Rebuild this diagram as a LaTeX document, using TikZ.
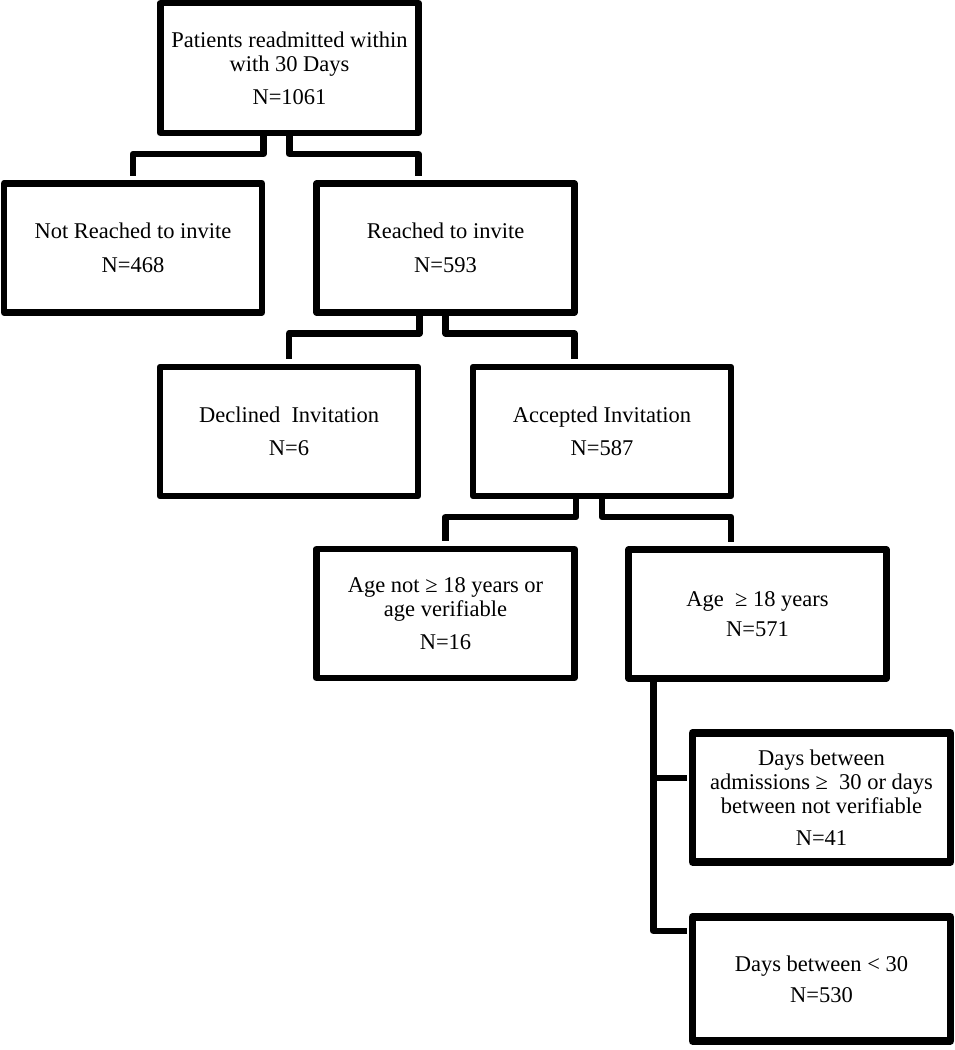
\documentclass[tikz,border=0pt]{standalone}
\usepackage{fontspec}
\setmainfont{Liberation Serif}
\usepackage{tikz}

\begin{document}
\begin{tikzpicture}[x=1pt,y=-1pt,
every node/.style={font=\fontsize{22.5}{24}\selectfont, align=center},
box/.style={draw, line width=6.5pt, line join=round, outer sep=0pt, inner sep=0pt,
	minimum width=258pt, minimum height=129pt},
link/.style={line width=6.5pt, line join=round}]
\useasboundingbox (0,0) rectangle (955,1050);
\def\gap{8pt}
\node[box](n) at (289.5,68) [minimum height=130pt] {Patients readmitted within\\with 30 Days\\[9pt]N=1061};
\node[box](n1) at (133,248) {Not Reached to invite\\[10pt]N=468};
\node[box](n2) at (445.5,248) {Reached to invite\\[10pt]N=593};
\node[box](n21) at (289,431.5) {Declined~ Invitation\\[9pt]N=6};
\node[box](n22) at (602,431.5) {Accepted Invitation\\[9pt]N=587};
\node[box](n221) at (445.5,613.5) {Age not ≥ 18 years or\\age verifiable\\[9pt]N=16};
\node[box](n222) at (757.5,614) {Age~ ≥ 18 years\\[6pt]N=571};
\node[box, line width=7.3pt](n2221) at (821.5,797.5) {Days between\\admissions ≥~ 30 or days\\between not verifiable\\[8pt]N=41};
\node[box, line width=7.3pt, minimum height=124pt](n2222) at (821.5,979) {Days between < 30\\[7pt]N=530};

%draw lines for each node with 2 children
\foreach \x in {,2,22}{
	\draw[link] ([xshift=-26pt]n\x.south) -- ++(0,21) -| ([yshift=\gap]n\x1.north);
	\draw[link] (n\x.south) -- ++(0,21) -| ([yshift=\gap]n\x.south east |- n\x2.north);
}

%last node has its children on one side
\coordinate(t) at ([xshift=25pt]n222.south west);
\coordinate(b1) at ([xshift=-6pt,yshift=-45pt]n2221.north west);
\coordinate(b2) at ([xshift=-6pt,yshift=-14pt]n2222.north west);
\draw[link] (t) |- (b2);
\draw[link] (t |- b1) -- (b1);
\end{tikzpicture}
\end{document}
